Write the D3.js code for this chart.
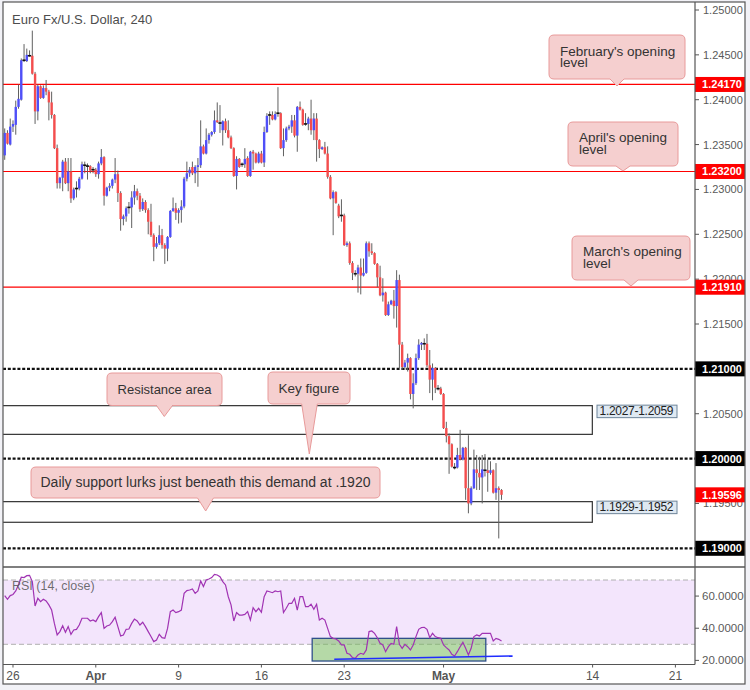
<!DOCTYPE html>
<html><head><meta charset="utf-8">
<script src="https://cdn.jsdelivr.net/npm/d3@7"></script>
<style>body{margin:0;background:#f2f2f7}svg{display:block}</style>
</head><body>
<svg id="c" width="750" height="690"></svg>
<script>
// ---------------- DATA ----------------
const firstBar = -3; // bar index of first candle (0 = 26 Mar 00:00, 4h bars)
const opens = [
1.2338,1.2363,1.2350,1.2370,1.2372,1.2392,1.2400,1.2443,1.2443,1.2450,
1.2449,1.2429,1.2387,1.2415,1.2402,1.2413,1.2409,1.2397,1.2383,1.2346,
1.2307,1.2313,1.2331,1.2307,1.2320,1.2290,1.2300,1.2301,1.2312,1.2328,
1.2327,1.2326,1.2321,1.2322,1.2317,1.2329,1.2336,1.2293,1.2302,1.2304,
1.2311,1.2317,1.2296,1.2267,1.2270,1.2279,1.2280,1.2291,1.2298,1.2293,
1.2278,1.2286,1.2277,1.2264,1.2249,1.2236,1.2240,1.2249,1.2238,1.2234,
1.2247,1.2276,1.2279,1.2274,1.2277,1.2281,1.2312,1.2318,1.2325,1.2318,
1.2325,1.2327,1.2348,1.2340,1.2355,1.2361,1.2364,1.2377,1.2375,1.2366,
1.2376,1.2366,1.2358,1.2346,1.2315,1.2334,1.2327,1.2328,1.2335,1.2315,
1.2342,1.2340,1.2330,1.2340,1.2330,1.2364,1.2382,1.2383,1.2378,1.2384,
1.2385,1.2346,1.2355,1.2368,1.2370,1.2377,1.2360,1.2392,1.2389,1.2372,
1.2373,1.2379,1.2366,1.2379,1.2355,1.2345,1.2347,1.2340,1.2314,1.2290,
1.2297,1.2282,1.2270,1.2271,1.2238,1.2240,1.2218,1.2207,1.2206,1.2213,
1.2204,1.2207,1.2240,1.2231,1.2229,1.2217,1.2202,1.2182,1.2185,1.2160,
1.2172,1.2176,1.2170,1.2199,1.2127,1.2102,1.2107,1.2112,1.2072,1.2084,
1.2112,1.2127,1.2129,1.2128,1.2104,1.2088,1.2101,1.2079,1.2078,1.2072,
1.2034,1.2025,1.2016,1.1991,1.1990,1.2004,1.1999,1.2012,1.1967,1.1950,
1.1967,1.1988,1.1984,1.1979,1.1988,1.1987,1.1984,1.1987,1.1962,1.1967,
1.1965];
const highs = [
1.2368,1.2366,1.2379,1.2377,1.2399,1.2417,1.2446,1.2462,1.2457,1.2455,
1.2477,1.2431,1.2417,1.2416,1.2416,1.2422,1.2411,1.2409,1.2384,1.2350,
1.2314,1.2333,1.2335,1.2335,1.2335,1.2302,1.2309,1.2314,1.2331,1.2331,
1.2329,1.2327,1.2325,1.2324,1.2331,1.2345,1.2337,1.2303,1.2307,1.2312,
1.2335,1.2321,1.2298,1.2272,1.2281,1.2286,1.2298,1.2305,1.2301,1.2296,
1.2290,1.2288,1.2279,1.2284,1.2251,1.2247,1.2260,1.2256,1.2240,1.2248,
1.2277,1.2291,1.2285,1.2279,1.2288,1.2314,1.2331,1.2325,1.2331,1.2327,
1.2335,1.2377,1.2350,1.2368,1.2363,1.2365,1.2388,1.2397,1.2394,1.2377,
1.2379,1.2377,1.2360,1.2347,1.2337,1.2335,1.2330,1.2346,1.2337,1.2343,
1.2344,1.2341,1.2342,1.2343,1.2370,1.2385,1.2387,1.2387,1.2387,1.2414,
1.2386,1.2368,1.2370,1.2372,1.2383,1.2383,1.2393,1.2398,1.2390,1.2385,
1.2381,1.2400,1.2385,1.2385,1.2356,1.2348,1.2353,1.2348,1.2316,1.2299,
1.2298,1.2284,1.2289,1.2273,1.2242,1.2242,1.2220,1.2210,1.2216,1.2223,
1.2223,1.2242,1.2242,1.2240,1.2230,1.2218,1.2215,1.2201,1.2186,1.2175,
1.2177,1.2188,1.2210,1.2205,1.2130,1.2110,1.2117,1.2113,1.2095,1.2117,
1.2133,1.2130,1.2134,1.2139,1.2121,1.2106,1.2102,1.2082,1.2080,1.2073,
1.2041,1.2028,1.2017,1.1995,1.2012,1.2032,1.2013,1.2013,1.2026,1.1969,
1.2010,1.2004,1.2002,1.2004,1.2005,1.1999,1.1997,1.1988,1.1995,1.1969,
1.1966];
const lows = [
1.2333,1.2350,1.2349,1.2364,1.2361,1.2390,1.2399,1.2442,1.2442,1.2448,
1.2428,1.2373,1.2377,1.2401,1.2401,1.2405,1.2377,1.2379,1.2345,1.2301,
1.2301,1.2298,1.2306,1.2298,1.2285,1.2288,1.2291,1.2299,1.2311,1.2318,
1.2311,1.2318,1.2318,1.2314,1.2312,1.2327,1.2282,1.2292,1.2298,1.2301,
1.2307,1.2286,1.2254,1.2260,1.2264,1.2273,1.2257,1.2283,1.2288,1.2275,
1.2276,1.2274,1.2250,1.2247,1.2220,1.2234,1.2238,1.2234,1.2217,1.2220,
1.2246,1.2275,1.2266,1.2262,1.2263,1.2279,1.2309,1.2314,1.2316,1.2307,
1.2303,1.2324,1.2339,1.2339,1.2351,1.2359,1.2362,1.2374,1.2363,1.2349,
1.2363,1.2357,1.2345,1.2314,1.2300,1.2324,1.2325,1.2324,1.2314,1.2314,
1.2322,1.2329,1.2329,1.2329,1.2325,1.2363,1.2372,1.2377,1.2377,1.2381,
1.2345,1.2337,1.2353,1.2366,1.2363,1.2358,1.2342,1.2388,1.2371,1.2371,
1.2366,1.2361,1.2355,1.2331,1.2335,1.2344,1.2339,1.2312,1.2289,1.2249,
1.2284,1.2268,1.2264,1.2237,1.2236,1.2216,1.2199,1.2203,1.2185,1.2183,
1.2203,1.2206,1.2225,1.2227,1.2216,1.2191,1.2181,1.2175,1.2159,1.2159,
1.2171,1.2156,1.2146,1.2101,1.2099,1.2099,1.2097,1.2066,1.2056,1.2082,
1.2110,1.2121,1.2121,1.2102,1.2073,1.2065,1.2073,1.2076,1.2071,1.2033,
1.2018,1.1983,1.1990,1.1988,1.1989,1.1998,1.1998,1.1954,1.1939,1.1948,
1.1966,1.1965,1.1965,1.1950,1.1980,1.1963,1.1982,1.1961,1.1954,1.1911,
1.1954];
const closes = [
1.2363,1.2351,1.2370,1.2373,1.2392,1.2401,1.2444,1.2444,1.2450,1.2449,
1.2429,1.2387,1.2415,1.2402,1.2413,1.2409,1.2397,1.2383,1.2346,1.2307,
1.2313,1.2331,1.2307,1.2320,1.2290,1.2300,1.2301,1.2312,1.2328,1.2327,
1.2326,1.2321,1.2322,1.2317,1.2329,1.2336,1.2293,1.2302,1.2304,1.2311,
1.2317,1.2296,1.2267,1.2270,1.2279,1.2280,1.2291,1.2298,1.2293,1.2278,
1.2286,1.2277,1.2264,1.2249,1.2236,1.2240,1.2249,1.2238,1.2234,1.2247,
1.2276,1.2279,1.2274,1.2277,1.2281,1.2312,1.2318,1.2322,1.2318,1.2325,
1.2327,1.2348,1.2340,1.2355,1.2361,1.2364,1.2377,1.2375,1.2374,1.2376,
1.2366,1.2358,1.2346,1.2315,1.2334,1.2325,1.2328,1.2334,1.2315,1.2342,
1.2340,1.2330,1.2340,1.2330,1.2364,1.2382,1.2383,1.2378,1.2384,1.2385,
1.2346,1.2355,1.2368,1.2370,1.2377,1.2360,1.2392,1.2389,1.2372,1.2373,
1.2379,1.2366,1.2379,1.2355,1.2345,1.2347,1.2340,1.2314,1.2290,1.2297,
1.2285,1.2270,1.2271,1.2238,1.2240,1.2218,1.2207,1.2206,1.2213,1.2204,
1.2207,1.2240,1.2231,1.2229,1.2217,1.2202,1.2182,1.2185,1.2160,1.2172,
1.2176,1.2170,1.2199,1.2127,1.2102,1.2107,1.2112,1.2072,1.2084,1.2112,
1.2127,1.2129,1.2128,1.2104,1.2088,1.2101,1.2079,1.2078,1.2072,1.2034,
1.2025,1.2016,1.1991,1.1990,1.2004,1.1999,1.2012,1.1967,1.1950,1.1967,
1.1988,1.1984,1.1979,1.1988,1.1987,1.1984,1.1987,1.1962,1.1967,1.1965,
1.19596];
const rsi = [
60.3,58,60.3,61,63.2,67,71.7,71.5,72.7,72.9,
69,53.8,58.6,56.5,58,57,54.5,51.3,43,35.8,
37.9,41.6,37.5,41,36.2,38.9,39.3,42,46.2,46.2,
46.2,44.5,45.1,44.1,47.2,49.7,39.9,41.4,42,44.1,
46.8,41,35.2,35.8,39.3,39.5,43,45.7,44.5,42,
43.7,41,37.9,34.8,31.7,32.7,36.2,34.1,33.7,39.9,
50.3,51.3,49.7,50.3,51.3,61.7,63.4,63.8,64.4,61.7,
63.2,69.4,65.9,70,70.6,71.5,73.5,73.1,72,69,
66.9,59.6,54.5,44.5,49.7,48.2,48.2,48.6,50.3,45.1,
52.8,50.3,52.4,49.9,59.6,63.2,62.7,62.1,63.2,62.7,
63.2,49.7,52.4,55.5,55.5,58.6,51.3,59.6,59.6,53.4,
53.4,55,51.8,54.9,45.1,46.2,45.1,39.9,34.8,33.7,
33.3,32.1,29.6,29.6,24.4,23.8,21.7,21.3,23.4,24.4,
23.8,26.5,37.9,38.3,36.8,34.1,30.6,29.6,25.4,28.5,
30.6,30,41,30,27.5,30,28.5,26.5,29.6,34.8,
39.3,40.4,40.6,39.3,34.1,36.8,34.8,34.1,33.7,29.6,
27.9,26.5,23.8,22.7,25.4,28.5,31.2,27.5,23.4,27.5,
34.8,35.8,35.2,36.8,36.8,36.8,36.8,32.1,33.7,33.1,
32.1];

const priceTicks = [1.25,1.245,1.24,1.235,1.23,1.225,1.22,1.215,1.21,1.205,1.20,1.195,1.19];
const rsiTicks = [60,40,20];
const rsiBands = [30,70];
const xTickBars = [0,30,60,90,120,156,210,240];
const xTickLabels = ["26","Apr","9","16","23","May","14","21"];
const xTickBold = [false,true,false,false,false,true,false,false];

const openingLevels = [1.2417,1.2320,1.2191];
const roundLevels = [1.21,1.20,1.19];
const zones = [[1.2027,1.2059],[1.1929,1.1952]];
const lastPrice = 1.19596;

const rsiBox = {i0:108.4, i1:171.3, v0:19.6, v1:33.7};
const rsiTrend = [[116.4,20.65],[181,22.7]];

// ---------------- LAYOUT ----------------
const svg = d3.select("#c");
const FONT = "'Liberation Sans', Arial, sans-serif";
const L = 3, R = 695, TOP = 2, MAINB = 567, RSIT = 567, RSIB = 664.5, AXB = 684, RIGHT = 745;

const x = d3.scaleLinear().domain([-3.62, 247.1]).range([L, R]);
const y = d3.scaleLinear().domain([1.19, 1.25]).range([548.3, 10]);
const yr = d3.scaleLinear().domain([30, 70]).range([644.3, 580]);

svg.append("rect").attr("x",L).attr("y",TOP).attr("width",RIGHT-L).attr("height",AXB-TOP).attr("fill","#fff");

const defs = svg.append("defs");
defs.append("clipPath").attr("id","mainClip").append("rect").attr("x",L).attr("y",TOP).attr("width",R-L).attr("height",MAINB-TOP);
defs.append("clipPath").attr("id","rsiClip").append("rect").attr("x",L).attr("y",RSIT).attr("width",R-L).attr("height",RSIB-RSIT);

const main = svg.append("g").attr("clip-path","url(#mainClip)");

main.selectAll("line.open").data(openingLevels).join("line")
  .attr("x1",L).attr("x2",R).attr("y1",d=>y(d)).attr("y2",d=>y(d))
  .attr("stroke","#ff0000").attr("stroke-width",1.2);

main.selectAll("line.round").data(roundLevels).join("line")
  .attr("x1",L).attr("x2",R).attr("y1",d=>y(d)).attr("y2",d=>y(d))
  .attr("stroke","#111").attr("stroke-width",2.2).attr("stroke-dasharray","3,1.8");

const zoneRight = x(209.9);
main.selectAll("rect.zone").data(zones).join("rect")
  .attr("x",L-2).attr("width",zoneRight-L+2)
  .attr("y",d=>y(d[1])).attr("height",d=>y(d[0])-y(d[1]))
  .attr("fill","none").attr("stroke","#333").attr("stroke-width",1.2);

const bars = opens.map((o,k)=>({i:k+firstBar,o,h:highs[k],l:lows[k],c:closes[k]}));
const cg = main.append("g");
cg.selectAll("line.wick").data(bars).join("line")
  .attr("x1",d=>x(d.i)).attr("x2",d=>x(d.i))
  .attr("y1",d=>y(d.h)).attr("y2",d=>y(d.l))
  .attr("stroke","#606060").attr("stroke-width",1);
const isDoji = d => Math.abs(d.c-d.o) < 0.00015;
cg.selectAll("rect.body").data(bars.filter(d=>!isDoji(d))).join("rect")
  .attr("x",d=>x(d.i)-1.2).attr("width",2.4)
  .attr("y",d=>y(Math.max(d.o,d.c)))
  .attr("height",d=>Math.max(1,Math.abs(y(d.o)-y(d.c))))
  .attr("fill",d=>d.c>=d.o?"#4f4ff8":"#f44d4d");
cg.selectAll("line.doji").data(bars.filter(isDoji)).join("line")
  .attr("x1",d=>x(d.i)-1.6).attr("x2",d=>x(d.i)+1.6)
  .attr("y1",d=>y(d.c)).attr("y2",d=>y(d.c))
  .attr("stroke","#111").attr("stroke-width",1.6);

function callout(g, b, lines, opts){
  const r = 5;
  const p = `M${b.x0+r},${b.y0} H${b.x1-r} Q${b.x1},${b.y0} ${b.x1},${b.y0+r} V${b.y1-r} Q${b.x1},${b.y1} ${b.x1-r},${b.y1} H${b.bx+b.bw} L${b.tx},${b.ty} L${b.bx-b.bw},${b.y1} H${b.x0+r} Q${b.x0},${b.y1} ${b.x0},${b.y1-r} V${b.y0+r} Q${b.x0},${b.y0} ${b.x0+r},${b.y0} Z`;
  g.append("path").attr("d",p).attr("fill","#f5cfcf").attr("stroke","#e89a9a").attr("stroke-width",1);
  const t = g.append("text").attr("font-family",FONT).attr("font-size",opts.size||13.5).attr("fill","#333")
    .attr("text-anchor",opts.anchor||"start");
  lines.forEach((s,k)=>{
    t.append("tspan").attr("x",opts.tx).attr("y",opts.ty+k*11.5).text(s);
  });
}
const ann = svg.append("g");
callout(ann,{x0:549,y0:35,x1:685,y1:79,bx:617,bw:7,tx:617,ty:86},["February's opening","level"],{tx:560,ty:55.5});
callout(ann,{x0:568,y0:122,x1:678,y1:166,bx:623,bw:7,tx:623,ty:171},["April's opening","level"],{tx:579,ty:142});
callout(ann,{x0:572,y0:236,x1:690,y1:280,bx:631,bw:7,tx:631,ty:286},["March's opening","level"],{tx:583,ty:256});
callout(ann,{x0:107,y0:373,x1:222,y1:405.5,bx:164.5,bw:8,tx:164.3,ty:416.5},["Resistance area"],{tx:164.5,ty:393.5,anchor:"middle",size:13});
callout(ann,{x0:268,y0:372,x1:350,y1:404,bx:309.5,bw:7.8,tx:309.3,ty:454},["Key figure"],{tx:309,ty:392.5,anchor:"middle"});
callout(ann,{x0:31,y0:467,x1:380,y1:498,bx:205.5,bw:8,tx:205.7,ty:511},["Daily support lurks just beneath this demand at .1920"],{tx:205.5,ty:487,anchor:"middle",size:14});

zones.forEach(z=>{
  const yy = y(z[1]);
  const g = svg.append("g");
  g.append("rect").attr("x",597).attr("y",yy-0.5).attr("width",80).attr("height",12.5)
    .attr("fill","#dfe9f2").attr("stroke","#6d8499").attr("stroke-width",1);
  g.append("text").attr("x",599.5).attr("y",yy+9.8)
    .attr("font-family",FONT).attr("font-size",12)
    .attr("textLength",74).attr("lengthAdjust","spacing").attr("fill","#222")
    .text(z[0].toFixed(4)+"-"+z[1].toFixed(4));
});

svg.append("text").attr("x",12).attr("y",24).attr("font-family",FONT).attr("font-size",13)
  .attr("fill","#4d4d4d").text("Euro Fx/U.S. Dollar, 240");

// ---------------- RSI PANEL ----------------
const rg = svg.append("g").attr("clip-path","url(#rsiClip)");
rg.append("rect").attr("x",L).attr("width",R-L).attr("y",yr(70)).attr("height",yr(30)-yr(70)).attr("fill","#f3e5fc");
rg.selectAll("line.band").data(rsiBands).join("line")
  .attr("x1",L).attr("x2",R).attr("y1",d=>yr(d)).attr("y2",d=>yr(d))
  .attr("stroke","#b0b0b0").attr("stroke-width",1).attr("stroke-dasharray","5,3");
rg.append("rect").attr("x",x(rsiBox.i0)).attr("width",x(rsiBox.i1)-x(rsiBox.i0))
  .attr("y",yr(rsiBox.v1)).attr("height",yr(rsiBox.v0)-yr(rsiBox.v1))
  .attr("fill","rgba(120,185,95,0.55)").attr("stroke","#2f4f8a").attr("stroke-width",1.3);
const rline = d3.line().x((d,k)=>x(k+firstBar)).y(d=>yr(d));
rg.append("path").attr("d",rline(rsi)).attr("fill","none").attr("stroke","#a033b3").attr("stroke-width",1.2);
rg.append("line").attr("x1",x(rsiTrend[0][0])).attr("y1",yr(rsiTrend[0][1]))
  .attr("x2",x(rsiTrend[1][0])).attr("y2",yr(rsiTrend[1][1]))
  .attr("stroke","#1f2cff").attr("stroke-width",1.5);
svg.append("text").attr("x",12).attr("y",590).attr("font-family",FONT).attr("font-size",12.5)
  .attr("fill","#555").attr("fill-opacity",0.85).text("RSI (14, close)");

// ---------------- AXES ----------------
const ax = svg.append("g");
priceTicks.forEach(v=>{
  ax.append("line").attr("x1",R).attr("x2",R+4).attr("y1",y(v)).attr("y2",y(v)).attr("stroke","#555");
  ax.append("text").attr("x",703).attr("y",y(v)+4).attr("font-family",FONT).attr("font-size",11)
    .attr("fill","#5a5a5a").text(v.toFixed(5));
});
rsiTicks.forEach(v=>{
  ax.append("line").attr("x1",R).attr("x2",R+4).attr("y1",yr(v)).attr("y2",yr(v)).attr("stroke","#555");
  ax.append("text").attr("x",702).attr("y",yr(v)+4).attr("font-family",FONT).attr("font-size",11.5)
    .attr("fill","#5a5a5a").text(v.toFixed(4));
});
function priceTag(v,bg){
  ax.append("rect").attr("x",R).attr("y",y(v)-7.5).attr("width",RIGHT-R).attr("height",15).attr("fill",bg);
  ax.append("text").attr("x",722).attr("y",y(v)+4).attr("text-anchor","middle").attr("font-family",FONT)
    .attr("font-size",11).attr("font-weight","bold").attr("fill","#fff").text(v.toFixed(5));
}
openingLevels.forEach(v=>priceTag(v,"#ff0000"));
roundLevels.forEach(v=>priceTag(v,"#000"));
priceTag(lastPrice,"#ff0000");

xTickBars.forEach((b,k)=>{
  ax.append("line").attr("x1",x(b)).attr("x2",x(b)).attr("y1",RSIB).attr("y2",RSIB+3).attr("stroke","#555");
  ax.append("text").attr("x",x(b)).attr("y",680).attr("text-anchor","middle").attr("font-family",FONT)
    .attr("font-size",12).attr("font-weight",xTickBold[k]?"bold":"normal").attr("fill","#555").text(xTickLabels[k]);
});

const fr = svg.append("g").attr("stroke","#555").attr("fill","none");
fr.append("rect").attr("x",L).attr("y",TOP).attr("width",RIGHT-L).attr("height",AXB-TOP).attr("stroke-width",1.2);
fr.append("line").attr("x1",R).attr("x2",R).attr("y1",TOP).attr("y2",RSIB).attr("stroke-width",1.2);
fr.append("line").attr("x1",L).attr("x2",RIGHT).attr("y1",MAINB).attr("y2",MAINB).attr("stroke-width",1.5);
fr.append("line").attr("x1",L).attr("x2",R).attr("y1",RSIB).attr("y2",RSIB).attr("stroke-width",1.2);
</script>
</body></html>
